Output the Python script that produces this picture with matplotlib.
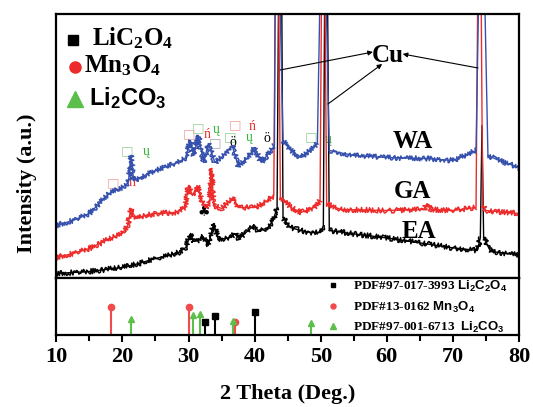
import numpy as np
import matplotlib.pyplot as plt

plt.rcParams['font.family'] = 'Liberation Serif'
plt.rcParams['font.weight'] = 'bold'
plt.rcParams['axes.labelweight'] = 'bold'
plt.rcParams['mathtext.fontset'] = 'custom'
plt.rcParams['mathtext.rm'] = 'Liberation Serif:bold'
plt.rcParams['mathtext.it'] = 'Liberation Serif:bold'
plt.rcParams['mathtext.bf'] = 'Liberation Serif:bold'
plt.rcParams['mathtext.sf'] = 'Liberation Sans:bold'

# XRD traces (2theta, intensity a.u.), Cu peaks go off scale
CU_LEVEL = 150
ea_tt = [10, 12.5, 15, 17.5, 20, 22.5, 25, 27, 28.5, 29.6, 30.3, 30.8, 31.5, 32.2, 33.0,
         33.8, 34.5, 35.5, 36.3, 37.0, 37.6, 38.5, 39.4, 40.0, 40.6, 42.0, 42.8, 43.4,
         43.75, 44.0, 44.3, 45.4, 47.0, 48.4, 50.0, 50.4, 50.7, 50.9, 51.3, 54.5, 59.5,
         64.6, 69.6, 73.7, 74.15, 74.4, 74.65, 75.7, 79.7, 80]
ea_int = [4, 5, 6, 8, 10, 14, 19, 22, 25, 30, 44, 36, 37, 41, 32,
          54, 38, 39, 40, 44, 39, 44, 49, 52, 46, 50, 57, 70,
          400, 400, 60, 50, 47, 45, 45, 52, 400, 400, 47, 44, 40,
          35, 30, 27, 40, 152, 40, 26, 23, 22]

ga_tt = [10, 12.5, 15, 17.5, 20, 20.8, 21.3, 22, 23.5, 25, 28, 29.5, 30.0, 30.6, 31.3,
         32.0, 32.6, 33.2, 33.5, 33.8, 35, 36.8, 37.5, 40, 42, 42.9, 43.25, 43.5, 43.9,
         45.5, 47, 49, 49.9, 50.25, 50.5, 50.9, 53, 60, 65.6, 66.1, 66.6, 70, 73.5,
         73.9, 74.15, 74.5, 75, 80]
ga_int = [20, 24, 29, 37, 44, 52, 69, 59, 62, 64, 65, 70, 92, 82, 92,
          77, 70, 74, 109, 72, 69, 80, 70, 70, 77, 82, 400, 400, 80,
          70, 65, 70, 77, 400, 400, 74, 68, 67, 68, 74, 68, 67, 70,
          400, 400, 72, 67, 64]

wa_tt = [10, 12.5, 15, 18, 20, 20.9, 21.3, 21.7, 25, 28, 29.5, 30.3, 30.8, 31.5, 32.3,
         33.0, 34, 35, 36.6, 37.5, 39, 40, 41, 42.5, 43.0, 43.2, 43.45, 44.3, 45.5,
         47, 49.5, 50.2, 50.45, 51.3, 55, 60, 66, 70, 73.5, 74.2, 74.45, 75.3, 77, 80]
wa_int = [52, 57, 64, 84, 90, 95, 122, 97, 107, 114, 119, 137, 122, 142, 115,
          134, 115, 120, 132, 112, 120, 130, 115, 127, 132, 400, 400, 137, 127,
          120, 134, 400, 400, 127, 122, 120, 119, 117, 127, 400, 400, 122, 117, 110]

# reference patterns (relative intensity)
li2c2o4_tt = [32.45, 33.95, 40.1]
li2c2o4_int = [43, 66, 79]
mn3o4_tt = [18.3, 30.0, 37.1]
mn3o4_int = [100, 100, 43]
li2co3_tt = [21.3, 30.65, 31.7, 36.8, 48.5]
li2co3_int = [57, 71, 75, 50, 41]

# phase symbols sitting over the peaks (tt, intensity, glyph, colour)
phase_marks = [
    (18.6, 94.5, '□', '#f2a0a0'), (30.1, 143.5, '□', '#f2a0a0'), (37.0, 152.5, '□', '#f2a0a0'),
    (20.7, 126.5, '□', '#96d296'), (31.4, 149.5, '□', '#96d296'), (36.3, 140.5, '□', '#96d296'),
    (48.5, 140.5, '□', '#96d296'), (34.0, 134.5, '□', '#a8a8a8'),
    (21.5, 94.5, 'ń', '#e8302c'), (32.8, 142.5, 'ń', '#e8302c'), (39.7, 151.5, 'ń', '#e8302c'),
    (23.6, 125.5, 'ų', '#3cb43c'), (34.2, 148.5, 'ų', '#3cb43c'), (39.2, 139.5, 'ų', '#3cb43c'),
    (51.2, 138.5, 'ų', '#3cb43c'),
    (36.7, 134.5, 'ö', 'black'), (41.9, 138.5, 'ö', 'black'), (32.3, 65.5, '♣', 'black'),
]

W, H = 533, 407
fig = plt.figure(figsize=(W / 100, H / 100), dpi=100)
left, right = 56.3 / W, 519 / W
ax = fig.add_axes([left, 1 - 277.5 / H, right - left, 263.5 / H])
ax2 = fig.add_axes([left, 1 - 334.5 / H, right - left, 57 / H], sharex=ax)

for tt, inten, color in [(ea_tt, ea_int, 'black'), (ga_tt, ga_int, '#ee2b2b'),
                         (wa_tt, wa_int, '#3550ad')]:
    inten = np.array(inten, dtype=float)
    ax.plot(tt, inten, color=color, lw=1.0)
    # noisy look only on the background, not on the sharp Cu reflections
    rough = np.where(inten >= CU_LEVEL, np.nan, inten)
    line, = ax.plot(tt, rough, color=color, lw=1.1)
    line.set_sketch_params(scale=2.6, length=1.2, randomness=3)

for tt, inten, glyph, color in phase_marks:
    fam = ['DejaVu Sans'] if glyph in '□♣' else ['Liberation Serif']
    ax.text(tt, inten, glyph, color=color, fontsize=9.5 if glyph == '□' else 10,
            family=fam, fontweight='normal', ha='center', va='center', zorder=1)

# Cu arrows
cu_xy = [(57.9, 225.5), (59.3, 213.5), (62.4, 223.5)]
cu_from = [(43.87, 207.5), (51.1, 173.5), (73.8, 209.5)]
for end, start in zip(cu_xy, cu_from):
    ax.annotate('', xy=end, xytext=start,
                arrowprops=dict(arrowstyle='-|>', lw=0.8, color='black',
                                mutation_scale=7, shrinkA=0, shrinkB=0))
ax.text(60.2, 222.5, 'Cu', fontsize=18, ha='center', va='center')

for x, y, lab in [(63.9, 135.5, 'WA'), (63.9, 86, 'GA'), (64.8, 46, 'EA')]:
    ax.text(x, y, lab, fontsize=18, ha='center', va='center')

# top-left phase key
ax.plot([0.036], [0.901], 's', color='black', ms=6.5, transform=ax.transAxes)
ax.text(0.077, 0.882, 'LiC$_2$O$_4$', fontsize=18, transform=ax.transAxes)
ax.plot([0.040], [0.799], 'o', color='#ee2b2b', ms=8, transform=ax.transAxes)
ax.text(0.060, 0.780, 'Mn$_3$O$_4$', fontsize=18, transform=ax.transAxes)
ax.plot([0.040], [0.676], '^', color='#5cbf4a', ms=12, transform=ax.transAxes)
ax.text(0.071, 0.655, r'$\mathsf{Li_2CO_3}$', fontsize=17, transform=ax.transAxes)

ax.set_xlim(10, 80)
ax.set_ylim(0, 263.5)
ax.set_yticks([])
ax.tick_params(axis='x', which='both', bottom=False, labelbottom=False)

# reference sticks
refs = [(li2c2o4_tt, li2c2o4_int, 'black', 's', 4, 'PDF#97-017-3993 $\\mathsf{Li_2C_2O_4}$'),
        (mn3o4_tt, mn3o4_int, '#f04a4a', 'o', 4.5, 'PDF#13-0162 $\\mathsf{Mn_3O_4}$'),
        (li2co3_tt, li2co3_int, '#5cbf4a', '^', 5, 'PDF#97-001-6713  $\\mathsf{Li_2CO_3}$')]
handles = []
for tt, inten, color, mk, ms, lab in refs:
    ax2.vlines(tt, 0, inten, color=color, lw=1.5)
    h, = ax2.plot(tt, inten, mk, color=color, ms=ms, ls='none', label=lab)
    handles.append(h)
leg = ax2.legend(handles=handles, loc='upper left', bbox_to_anchor=(0.57, 1.07),
                 frameon=False, fontsize=9.5, handlelength=1.2, handletextpad=0.9,
                 labelspacing=0.42, borderaxespad=0, markerscale=0.8)
for t in leg.get_texts():
    t.set_fontweight('bold')
ax2.set_ylim(0, 204)
ax2.set_yticks([])
ax2.set_xticks(np.arange(10, 81, 10))
ax2.set_xticks(np.arange(15, 80, 10), minor=True)
ax2.tick_params(axis='x', which='major', direction='out', length=5, width=1.5,
                labelsize=16, pad=4)
ax2.tick_params(axis='x', which='minor', direction='out', length=4, width=1.5)
for lab in ax2.get_xticklabels():
    lab.set_fontweight('bold')
for a in (ax, ax2):
    for s in a.spines.values():
        s.set_linewidth(1.6)

ax2.set_xlabel('2 Theta (Deg.)', fontsize=16, fontweight='bold', labelpad=12)
fig.text(27 / W, 1 - 183 / H, 'Intensity (a.u.)', rotation=90, fontsize=16,
         fontweight='bold', ha='center', va='center')

fig.savefig('out.png', dpi=100)
